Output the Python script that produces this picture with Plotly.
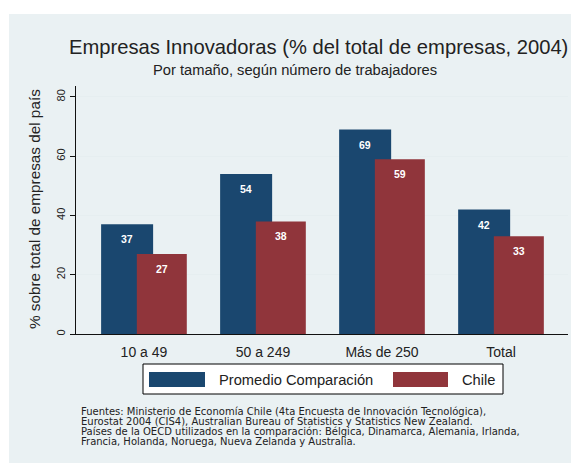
import plotly.graph_objects as go

# ---- data -------------------------------------------------------------
categories = ["10 a 49", "50 a 249", "Más de 250", "Total"]
promedio = [37, 54, 69, 42]
chile = [27, 38, 59, 33]
series_names = ["Promedio Comparación", "Chile"]
y_ticks = [0, 20, 40, 60, 80]

title = "Empresas Innovadoras (% del total de empresas, 2004)"
subtitle = "Por tamaño, según número de trabajadores"
y_title = "% sobre total de empresas del país"
notes = [
    "Fuentes: Ministerio de Economía Chile (4ta Encuesta de Innovación Tecnológica),",
    "Eurostat 2004 (CIS4), Australian Bureau of Statistics y Statistics New Zealand.",
    "Países de la OECD utilizados en la comparación: Bélgica, Dinamarca, Alemania, Irlanda,",
    "Francia, Holanda, Noruega, Nueva Zelanda y Australia.",
]

# ---- style ------------------------------------------------------------
W, H = 571, 463
L, R, T, B = 76, 568, 86, 334          # plot area in pixels
BLUE, RED = "#1a476f", "#90353b"
BG = "#eaf1f3"
FONT = "Liberation Sans, Arial, sans-serif"
NOTE_FONT = "DejaVu Sans, sans-serif"
TXT = "#222222"

def px(x):
    return (x - L) / (R - L)

def py(y):
    return (B - y) / (B - T)

idx = list(range(len(categories)))
blue_off, blue_w = -0.36, 0.437
red_off, red_w = -0.06, 0.42

fig = go.Figure()
fig.add_trace(go.Bar(x=idx, y=promedio, name=series_names[0], marker_color=BLUE,
                     marker_line_width=0, offset=blue_off, width=blue_w))
fig.add_trace(go.Bar(x=idx, y=chile, name=series_names[1], marker_color=RED,
                     marker_line_width=0, offset=red_off, width=red_w))

annotations = []
# value labels inside the bars, near the top
for vals, off, w in ((promedio, blue_off, blue_w), (chile, red_off, red_w)):
    for i, v in zip(idx, vals):
        annotations.append(dict(x=i + off + w / 2, y=v, xref="x", yref="y",
                                text=f"<b>{v}</b>", showarrow=False,
                                yanchor="middle", yshift=-15,
                                font=dict(family=FONT, size=10.5, color="white")))

# titles
annotations.append(dict(x=px(318), y=py(47), xref="paper", yref="paper",
                        text=title, showarrow=False, xanchor="center", yanchor="middle",
                        font=dict(family=FONT, size=20.2, color=TXT)))
annotations.append(dict(x=px(295), y=py(70), xref="paper", yref="paper",
                        text=subtitle, showarrow=False, xanchor="center", yanchor="middle",
                        font=dict(family=FONT, size=14.7, color=TXT)))
# y-axis title
annotations.append(dict(x=px(34), y=py(209), xref="paper", yref="paper",
                        text=y_title, showarrow=False, textangle=-90,
                        xanchor="center", yanchor="middle",
                        font=dict(family=FONT, size=15.3, color=TXT)))

# legend drawn as a framed box with colour swatches
shapes = [
    dict(type="rect", xref="paper", yref="paper", x0=px(9), x1=px(W), y0=py(H), y1=py(14),
         fillcolor=BG, line_width=0, layer="below"),
    dict(type="rect", xref="paper", yref="paper", x0=px(143), x1=px(503), y0=py(394), y1=py(364),
         fillcolor="white", line=dict(color="black", width=1)),
    dict(type="rect", xref="paper", yref="paper", x0=px(149), x1=px(205), y0=py(387), y1=py(372),
         fillcolor=BLUE, line_width=0),
    dict(type="rect", xref="paper", yref="paper", x0=px(393), x1=px(448), y0=py(387), y1=py(372),
         fillcolor=RED, line_width=0),
]
for name, x0 in zip(series_names, (217, 460)):
    annotations.append(dict(x=px(x0), y=py(379.5), xref="paper", yref="paper",
                            text=name, showarrow=False, xanchor="left", yanchor="middle",
                            font=dict(family=FONT, size=14.7, color=TXT)))

# source notes
for k, line in enumerate(notes):
    annotations.append(dict(x=px(79), y=py(411.5 + 10 * k), xref="paper", yref="paper",
                            text=line, showarrow=False, xanchor="left", yanchor="middle",
                            font=dict(family=NOTE_FONT, size=10, color=TXT)))

fig.update_layout(
    width=W, height=H,
    margin=dict(l=L, r=W - R, t=T, b=H - B),
    paper_bgcolor="white", plot_bgcolor="white",
    barmode="overlay", showlegend=False,
    annotations=annotations, shapes=shapes,
    font=dict(family=FONT, color=TXT),
)
fig.update_xaxes(range=[-0.571, 3.563], tickmode="array", tickvals=idx, ticktext=categories,
                 showgrid=False, showline=True, linecolor="#111111", linewidth=1.3,
                 ticks="", ticklabelstandoff=5,
                 tickfont=dict(family=FONT, size=14, color=TXT), zeroline=False)
fig.update_yaxes(range=[0, 83.7], tickvals=y_ticks, showgrid=True, gridcolor="#e6eef0",
                 gridwidth=1, showline=True, linecolor="#111111", linewidth=1.3,
                 ticks="outside", ticklen=5, tickcolor="#111111", tickangle=-90,
                 tickfont=dict(family=FONT, size=11, color=TXT), zeroline=False)

fig.write_html("out.html")
